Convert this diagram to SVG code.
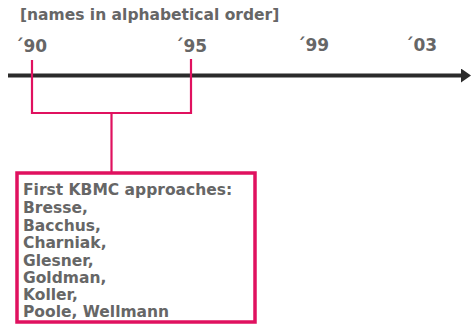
<svg xmlns="http://www.w3.org/2000/svg" width="472" height="325" viewBox="0 0 472 325">
  <style>
    .t { font-family: "DejaVu Sans", Verdana, sans-serif; font-weight: bold; fill: #666666; }
    .hd { font-size: 15.5px; }
    .yr { font-size: 17px; }
    .bx { font-size: 15.5px; }
    .pk { stroke: #e0115f; fill: none; }
  </style>
  <defs>
    <marker id="arrow" markerWidth="10" markerHeight="14" refX="1" refY="7" orient="auto" markerUnits="userSpaceOnUse">
      <path d="M0,0 L10,7 L0,14 Z" fill="#2b2b2b"/>
    </marker>
  </defs>

  <text class="t hd" x="20" y="20">[names in alphabetical order]</text>

  <!-- timeline -->
  <g id="timeline">
    <line x1="8" y1="75.5" x2="462" y2="75.5" stroke="#2b2b2b" stroke-width="4" marker-end="url(#arrow)"/>
    <text class="t yr" x="15" y="52">´90</text>
    <text class="t yr" x="175" y="52">´95</text>
    <text class="t yr" x="297" y="51">´99</text>
    <text class="t yr" x="405" y="51">´03</text>
  </g>

  <!-- bracket from the 1990–1995 span down to the box -->
  <g id="connectors">
    <path class="pk" stroke-width="2.2" d="M32,60 V113 H191 V59"/>
    <line class="pk" stroke-width="2.2" x1="111.5" y1="113" x2="111.5" y2="173"/>
  </g>

  <g id="kbmc">
    <rect class="pk" stroke-width="3.5" x="17" y="173" width="238" height="149"/>
    <text class="t bx" x="23" y="195">First KBMC approaches:</text>
    <text class="t bx" x="23" y="213">Bresse,</text>
    <text class="t bx" x="23" y="230.5">Bacchus,</text>
    <text class="t bx" x="23" y="248">Charniak,</text>
    <text class="t bx" x="23" y="265.5">Glesner,</text>
    <text class="t bx" x="23" y="283">Goldman,</text>
    <text class="t bx" x="23" y="300">Koller,</text>
    <text class="t bx" x="23" y="317">Poole, Wellmann</text>
  </g>
</svg>
